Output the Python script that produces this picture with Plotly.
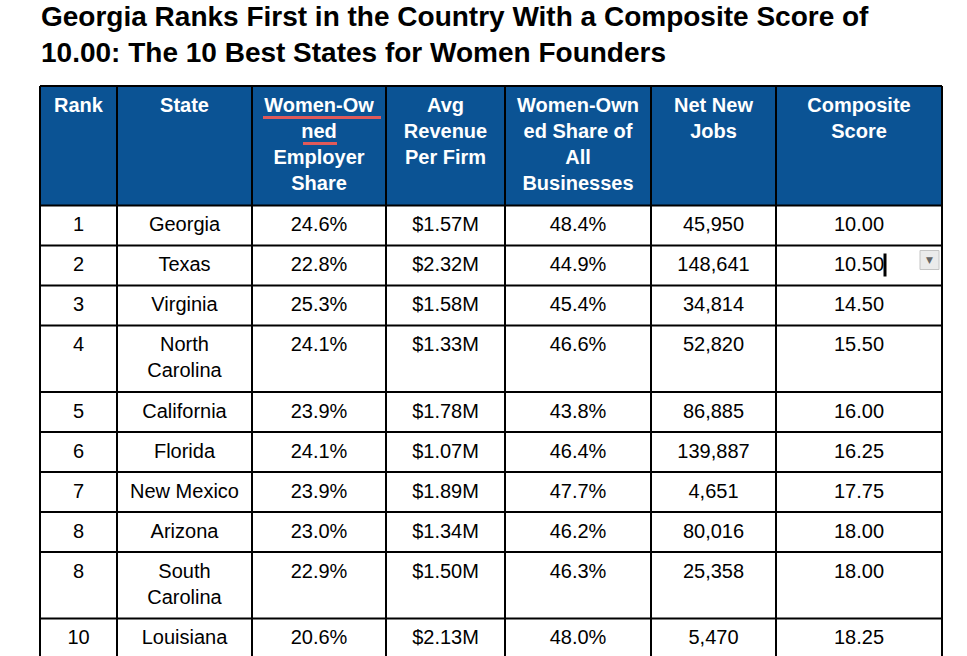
import plotly.graph_objects as go

# table data
ranks = ["1", "2", "3", "4", "5", "6", "7", "8", "8", "10"]
states = ["Georgia", "Texas", "Virginia", "North<br>Carolina", "California",
          "Florida", "New Mexico", "Arizona", "South<br>Carolina", "Louisiana"]
employer_share = ["24.6%", "22.8%", "25.3%", "24.1%", "23.9%",
                  "24.1%", "23.9%", "23.0%", "22.9%", "20.6%"]
avg_revenue = ["$1.57M", "$2.32M", "$1.58M", "$1.33M", "$1.78M",
               "$1.07M", "$1.89M", "$1.34M", "$1.50M", "$2.13M"]
all_business_share = ["48.4%", "44.9%", "45.4%", "46.6%", "43.8%",
                      "46.4%", "47.7%", "46.2%", "46.3%", "48.0%"]
net_new_jobs = ["45,950", "148,641", "34,814", "52,820", "86,885",
                "139,887", "4,651", "80,016", "25,358", "5,470"]
composite = ["10.00", "10.50", "14.50", "15.50", "16.00",
             "16.25", "17.75", "18.00", "18.00", "18.25"]

headers = ["Rank", "State", "Women-Ow<br>ned<br>Employer<br>Share",
           "Avg<br>Revenue<br>Per Firm", "Women-Own<br>ed Share of<br>All<br>Businesses",
           "Net New<br>Jobs", "Composite<br>Score"]

title = ("<b>Georgia Ranks First in the Country With a Composite Score of<br>"
         "10.00: The 10 Best States for Women Founders</b>")

# layout (pixels)
W, H = 967, 656
col_widths = [77, 135, 134, 119, 146, 125, 166]
LEFT, TOP = 40, 86
LINE_H = 26.5      # row growth per text line
PAD = 13.5         # extra height per row
FIRST = 20.5       # first text line centre below the row top
FONT = "Liberation Sans, Arial, sans-serif"
BLUE = "#0b5394"

columns = [ranks, states, employer_share, avg_revenue,
           all_business_share, net_new_jobs, composite]


def n_lines(s):
    return s.count("<br>") + 1


x_edges = [LEFT]
for w in col_widths:
    x_edges.append(x_edges[-1] + w)
x_mid = [(a + b) / 2 for a, b in zip(x_edges[:-1], x_edges[1:])]

header_h = PAD + LINE_H * max(n_lines(h) for h in headers)
row_h = [PAD + LINE_H * max(n_lines(c[i]) for c in columns) for i in range(len(ranks))]
y_edges = [TOP, TOP + header_h]
for h in row_h:
    y_edges.append(y_edges[-1] + h)


def text_y(top, s, size):
    return top + FIRST + (n_lines(s) - 1) * 1.3 * size / 2


fig = go.Figure()

# header text
fig.add_trace(go.Scatter(
    x=x_mid,
    y=[text_y(TOP, h, 20) for h in headers],
    text=[f"<b>{h}</b>" for h in headers],
    mode="text", textposition="middle center",
    textfont=dict(family=FONT, size=20, color="white"),
    hoverinfo="skip", showlegend=False,
))

# body text, one trace per column
for j, col in enumerate(columns):
    fig.add_trace(go.Scatter(
        x=[x_mid[j]] * len(col),
        y=[text_y(y_edges[i + 1], s, 20) for i, s in enumerate(col)],
        text=col,
        mode="text", textposition="middle center",
        textfont=dict(family=FONT, size=20, color="black"),
        hoverinfo="skip", showlegend=False,
    ))

shapes = [dict(type="rect", x0=x_edges[0], x1=x_edges[-1], y0=y_edges[0], y1=y_edges[1],
               fillcolor=BLUE, line=dict(width=0), layer="below")]
for x in x_edges:
    shapes.append(dict(type="line", x0=x, x1=x, y0=y_edges[0], y1=y_edges[-1],
                       line=dict(color="black", width=2)))
for y in y_edges:
    shapes.append(dict(type="line", x0=x_edges[0], x1=x_edges[-1], y0=y, y1=y,
                       line=dict(color="black", width=2)))

# spell-check squiggles under the wrapped header word
shapes.append(dict(type="line", x0=x_mid[2] - 56, x1=x_mid[2] + 62,
                   y0=TOP + 31.5, y1=TOP + 31.5, line=dict(color="#e05a5a", width=3)))
shapes.append(dict(type="line", x0=x_mid[2] - 16, x1=x_mid[2] + 18,
                   y0=TOP + 57.5, y1=TOP + 57.5, line=dict(color="#e05a5a", width=3)))
# text cursor after "10.50" and the cell's dropdown chip
r2 = y_edges[2]
shapes.append(dict(type="line", x0=x_mid[6] + 26, x1=x_mid[6] + 26,
                   y0=r2 + 8, y1=r2 + 31, line=dict(color="black", width=3)))
shapes.append(dict(type="rect", x0=x_edges[7] - 22, x1=x_edges[7] - 3,
                   y0=r2 + 5, y1=r2 + 24, fillcolor="#ebebeb",
                   line=dict(color="#c4c4c4", width=1)))

fig.add_annotation(x=x_edges[7] - 12.5, y=r2 + 14.5, text="▼", showarrow=False,
                   font=dict(family="DejaVu Sans", size=9, color="#666666"))

fig.add_annotation(xref="paper", yref="paper", x=LEFT / W, y=1,
                   xanchor="left", yanchor="top", align="left", borderpad=0,
                   text=title, showarrow=False,
                   font=dict(family=FONT, size=28, color="black"))

fig.update_layout(
    width=W, height=H,
    margin=dict(l=0, r=0, t=0, b=0),
    paper_bgcolor="white", plot_bgcolor="white",
    xaxis=dict(range=[0, W], visible=False, fixedrange=True),
    yaxis=dict(range=[H, 0], visible=False, fixedrange=True),
    shapes=shapes,
)

# drop the page's default body margin so the figure sits at the window's corner
fig.write_html("out.html", config={"displayModeBar": False},
               post_script="document.body.style.margin = '0px';")
